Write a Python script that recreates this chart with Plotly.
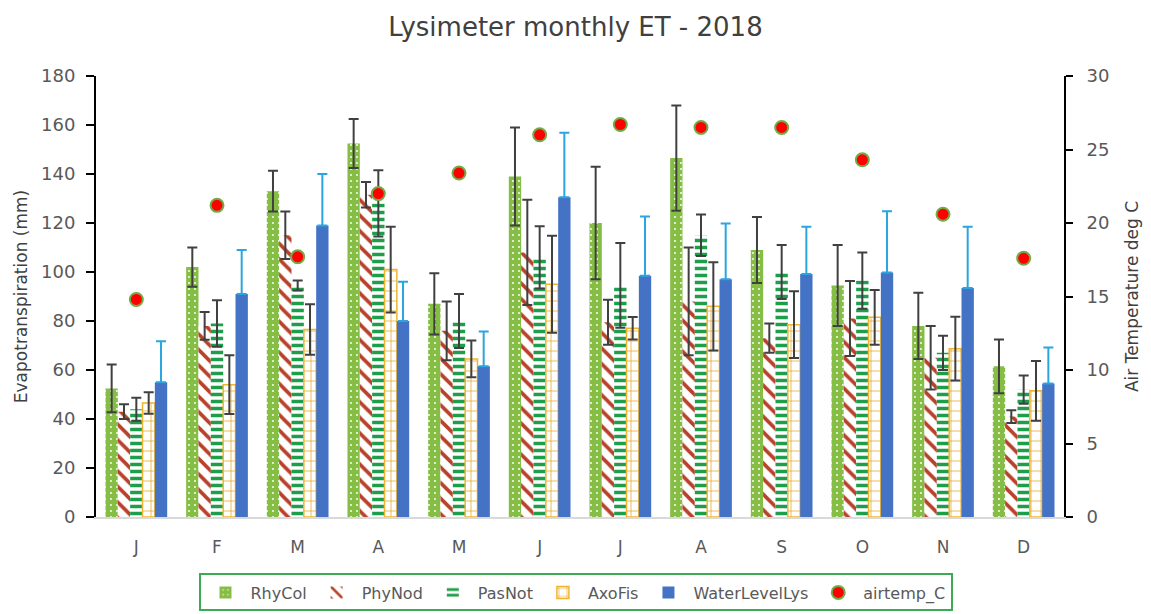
import plotly.graph_objects as go

# Monthly lysimeter evapotranspiration (mm) with standard deviations, 2018
months = ["J", "F", "M", "A", "M", "J", "J", "A", "S", "O", "N", "D"]

rhycol = [52.5, 102, 133, 152.5, 87, 139, 120, 146.5, 109, 94.5, 78, 61.5]
rhycol_sd = [9.7, 8, 8.3, 10, 12.5, 20, 23, 21.5, 13.5, 16.5, 13.5, 11]

phynod = [43, 78, 115, 131.5, 76, 108, 79.5, 88, 73, 81, 65, 41]
phynod_sd = [3, 5.7, 9.7, 5.2, 12, 21.5, 9.2, 22, 6, 15.3, 13, 2.6]

pasnot = [44, 79, 94.5, 128, 80, 106, 94.5, 115, 100, 96.5, 67, 52]
pasnot_sd = [4.7, 9.5, 2, 13.5, 11, 12.7, 17.3, 8.5, 11, 11.5, 7, 5.8]

axofis = [46.5, 54, 76.5, 101, 64.5, 95, 77, 86, 78.5, 81.5, 68.7, 51.5]
axofis_sd = [4.4, 12, 10.3, 17.5, 7.5, 19.8, 4.6, 18, 13.6, 11.2, 13, 12.2]

waterlevel = [55, 91, 119, 80, 61.5, 130.5, 98.5, 97, 99.2, 99.8, 93.5, 54.5]
waterlevel_sd = [16.7, 18, 21, 16, 14.2, 26.3, 24.2, 22.8, 19.3, 25, 25, 14.7]

# Mean monthly air temperature (deg C)
airtemp = [14.8, 21.2, 17.7, 22.0, 23.4, 26.0, 26.7, 26.5, 26.5, 24.3, 20.6, 17.6]

x = list(range(len(months)))
FONT = "'DejaVu Sans', Verdana, sans-serif"
TXT = "#595959"
ERR = "#404040"


def err(values):
    return dict(type="data", array=values, color=ERR, thickness=2, width=5)


fig = go.Figure()

fig.add_trace(go.Bar(
    name="RhyCol", x=x, y=rhycol, error_y=err(rhycol_sd),
    marker=dict(color="#86BD45", line=dict(width=0),
                pattern=dict(shape=".", fgcolor="#FFFFFF", bgcolor="#86BD45",
                             fillmode="replace", size=6, solidity=0.08)),
))
fig.add_trace(go.Bar(
    name="PhyNod", x=x, y=phynod, error_y=err(phynod_sd),
    marker=dict(color="#B9412B", line=dict(width=0),
                pattern=dict(shape="\\", fgcolor="#B9412B", bgcolor="#FFFFFF",
                             fillmode="replace", size=11, solidity=0.33)),
))
fig.add_trace(go.Bar(
    name="PasNot", x=x, y=pasnot, error_y=err(pasnot_sd),
    marker=dict(color="#1E9E4A", line=dict(width=0),
                pattern=dict(shape="-", fgcolor="#1E9E4A", bgcolor="#FFFFFF",
                             fillmode="replace", size=7, solidity=0.5)),
))
fig.add_trace(go.Bar(
    name="AxoFis", x=x, y=axofis, error_y=err(axofis_sd),
    marker=dict(color="#F0B530", line=dict(color="#F0B530", width=1.5),
                pattern=dict(shape="+", fgcolor="#E8A828", bgcolor="#FFFFFF",
                             fillmode="replace", size=10, solidity=0.15)),
))
fig.add_trace(go.Bar(
    name="WaterLevelLys", x=x, y=waterlevel,
    error_y=dict(type="data", symmetric=False, array=waterlevel_sd,
                 arrayminus=[0] * len(waterlevel_sd),
                 color="#2AA5DF", thickness=2, width=5),
    marker=dict(color="#4472C4", line=dict(width=0)),
))
fig.add_trace(go.Scatter(
    name="airtemp_C", x=x, y=airtemp, yaxis="y2", mode="markers",
    marker=dict(color="#FF0000", size=13, line=dict(color="#70AD47", width=2)),
))

fig.update_layout(
    width=1151, height=614,
    paper_bgcolor="white", plot_bgcolor="white",
    margin=dict(l=96, r=83, t=76, b=97),
    font=dict(family=FONT, color=TXT, size=16),
    title=dict(text="Lysimeter monthly ET - 2018", x=0.5, xanchor="center",
               y=0.957, yanchor="middle",
               font=dict(family=FONT, size=26, color="#404040")),
    barmode="group", bargap=0.235, bargroupgap=0,
    xaxis=dict(tickvals=x, ticktext=months, range=[-0.5, 11.5],
               showline=True, linecolor="#D9D9D9", linewidth=1.5,
               ticks="", showgrid=False, zeroline=False,
               ticklabelstandoff=14,
               tickfont=dict(size=17, color=TXT)),
    yaxis=dict(range=[0, 180], dtick=20, showgrid=False, zeroline=False,
               showline=True, linecolor="#000000", linewidth=2,
               ticks="outside", ticklen=8, tickwidth=2, tickcolor="#000000",
               ticklabelstandoff=7,
               tickfont=dict(size=18, color=TXT),
               title=dict(text="Evapotranspiration (mm)", standoff=9,
                          font=dict(size=17, color="#404040"))),
    yaxis2=dict(overlaying="y", side="right", range=[0, 30], dtick=5,
                showgrid=False, zeroline=False,
                showline=True, linecolor="#000000", linewidth=2,
                ticks="outside", ticklen=7, tickwidth=2, tickcolor="#000000",
                ticklabelstandoff=10,
                tickfont=dict(size=18, color=TXT),
                title=dict(text="Air Temperature deg C", standoff=18,
                           font=dict(size=17, color="#404040"))),
    legend=dict(orientation="h", x=0.5, xanchor="center", xref="container",
                y=0.066, yanchor="top", yref="container",
                bordercolor="#3DAA55", borderwidth=2, bgcolor="white",
                font=dict(size=16, color=TXT), itemwidth=40,
                traceorder="normal"),
)

fig.write_html("out.html")
